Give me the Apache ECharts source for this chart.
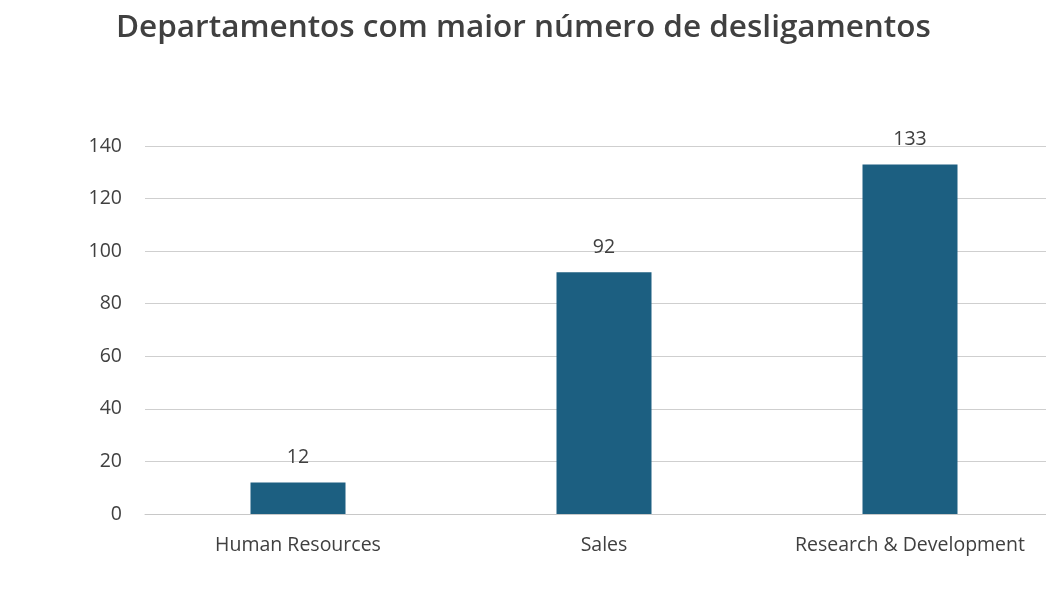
<!DOCTYPE html>
<html>
<head>
<meta charset="utf-8">
<script src="https://cdn.jsdelivr.net/npm/echarts@6/dist/echarts.min.js"></script>
<style>
  html, body { margin: 0; padding: 0; background: #fff; overflow: hidden; }
  #cnv { width: 1063px; height: 606px; }
</style>
</head>
<body>
<div id="cnv"></div>
<script>
var categories = ["Human Resources", "Sales", "Research & Development"];
var values = [12, 92, 133];

var main = document.getElementById("cnv");
var myechart = echarts.init(main);
var option = {
    animation: false,
    title: {
        text: "Departamentos com maior número de desligamentos",
        left: 111,
        top: 7,
        textStyle: { fontFamily: "Open Sans", fontSize: 31.5, fontWeight: 600, color: "#404040" }
    },
    grid: { left: 145, right: 0, top: 146, bottom: 92 },
    xAxis: {
        type: "category",
        data: categories,
        axisLine: { lineStyle: { color: "#c8c8c8" } },
        axisTick: { show: false },
        axisLabel: { fontFamily: "Open Sans", fontSize: 19.5, color: "#404040", margin: 21 }
    },
    yAxis: {
        type: "value",
        min: 0,
        max: 140,
        interval: 20,
        axisLine: { show: false },
        axisTick: { show: false },
        splitLine: { lineStyle: { color: "#cfcfcf" } },
        axisLabel: { fontFamily: "Open Sans", fontSize: 19.5, color: "#404040", margin: 23 }
    },
    series: [{
        type: "bar",
        data: values,
        barWidth: 95,
        itemStyle: { color: "#1c5f81" },
        label: {
            show: true,
            position: "top",
            distance: 15,
            fontFamily: "Open Sans",
            fontSize: 19.5,
            color: "#404040"
        }
    }]
};
myechart.setOption(option);
</script>
</body>
</html>
